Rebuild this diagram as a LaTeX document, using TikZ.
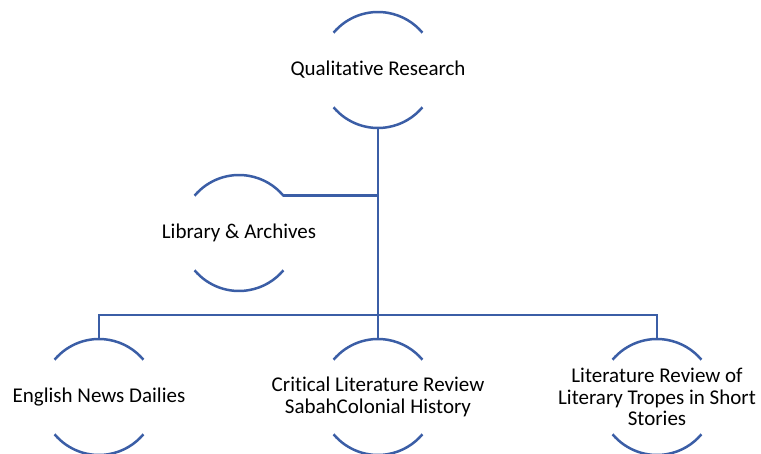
\documentclass[tikz,border=0pt]{standalone}
\usepackage{fontspec}
\setmainfont[Ligatures={NoCommon}]{Carlito}
\definecolor{arcblue}{RGB}{59,94,166}
\begin{document}
\begin{tikzpicture}[x=1pt,y=-1pt,
  lbl/.style={align=center,inner sep=0pt,font=\fontsize{21}{21.6}\selectfont,text=black},
  arcline/.style={draw=arcblue,line width=2.5pt},
  conn/.style={draw=arcblue,line width=2.5pt}]
\path[use as bounding box] (0,0) rectangle (761,454);
\clip (0,0) rectangle (761,454);
% nodes
\node[lbl] (q) at (378,70) {Qualitative Research};
\node[lbl] (l) at (239,233) {Library \& Archives};
\node[lbl] (e) at (99,397) {English News Dailies};
\node[lbl] (c) at (378,397) {Critical Literature Review\\SabahColonial History};
\node[lbl] (r) at (657,397) {Literature Review of\\Literary Tropes in Short\\Stories};
% arcs
\foreach \n in {q,l,e,c,r}{
  \draw[arcline] ([shift={(140:58)}]\n.center) arc[start angle=140,end angle=40,radius=58];
  \draw[arcline] ([shift={(220:58)}]\n.center) arc[start angle=220,end angle=320,radius=58];
}
% connectors
\coordinate (bus) at (378,315);
\draw[conn] ([yshift=-58pt]q.center) -- (bus);
\draw[conn] ([shift={(-40:58)}]l.center) coordinate (lend) -- (lend -| q.center);
\draw[conn] ([yshift=58pt]e.center) |- (bus) -| ([yshift=58pt]r.center);
\draw[conn] (bus) -- ([yshift=58pt]c.center);
\end{tikzpicture}
\end{document}
